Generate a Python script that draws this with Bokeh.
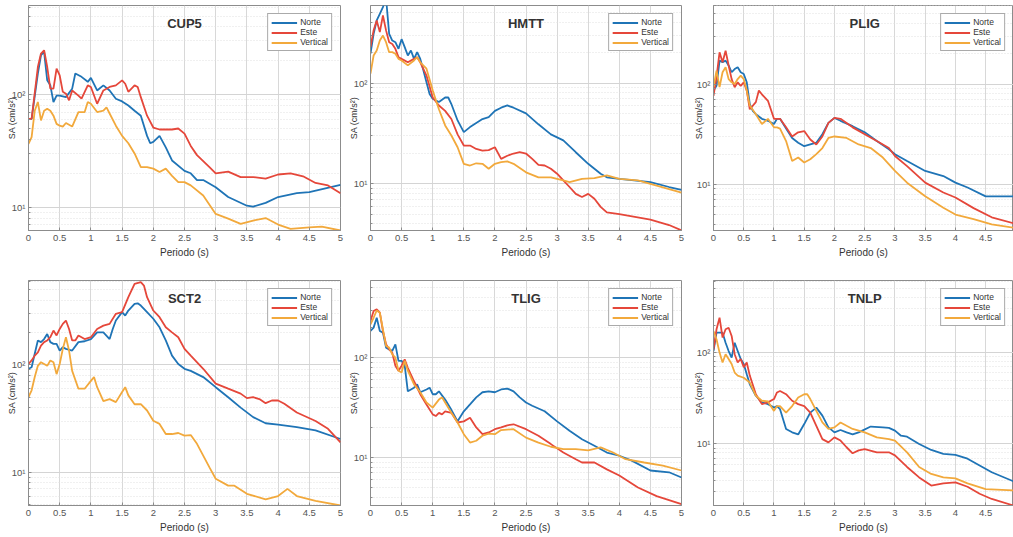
import math

from bokeh.plotting import figure
from bokeh.models import Range1d, FixedTicker, CustomJSTickFormatter, Label
from bokeh.layouts import row, column
from bokeh.embed import file_html
from bokeh.resources import INLINE

# ---------------- response spectra (period s, SA cm/s^2) ----------------
components = ["Norte", "Este", "Vertical"]
colors = ["#1f74b6", "#e5473a", "#f2a93c"]

# CUP5
cup5_t_n = [0, 0.05, 0.15, 0.2, 0.25, 0.3, 0.35, 0.4, 0.45, 0.5, 0.6, 0.7, 0.75, 0.85, 0.95, 1.0, 1.1, 1.2, 1.3, 1.4, 1.5, 1.6, 1.7, 1.8, 1.9, 1.95, 2.0, 2.1, 2.2, 2.3, 2.5, 2.6, 2.7, 2.8, 3.0, 3.2, 3.5, 3.6, 3.8, 4.0, 4.3, 4.5, 5.0]
cup5_n = [61, 61, 154, 224, 240, 134, 121, 86, 98, 98, 95, 113, 154, 144, 130, 141, 109, 121, 109, 92, 87, 80, 72, 65, 43, 37, 38, 43, 34, 26, 21, 20, 17.4, 17.4, 15, 12.3, 10.3, 10.1, 10.9, 12.3, 13.3, 13.6, 15.8]
cup5_t_e = [0, 0.05, 0.15, 0.2, 0.25, 0.3, 0.35, 0.4, 0.45, 0.5, 0.55, 0.6, 0.65, 0.7, 0.8, 0.85, 0.95, 1.0, 1.1, 1.2, 1.3, 1.4, 1.5, 1.55, 1.6, 1.7, 1.75, 1.8, 1.9, 2.0, 2.1, 2.3, 2.4, 2.5, 2.6, 2.7, 2.9, 3.0, 3.2, 3.4, 3.6, 3.8, 4.0, 4.2, 4.4, 4.6, 4.8, 5.0]
cup5_e = [61, 61, 176, 232, 248, 176, 113, 113, 170, 148, 106, 102, 89, 109, 98, 92, 121, 117, 83, 109, 117, 121, 134, 125, 106, 121, 117, 95, 65, 51, 49, 49, 50, 45, 35, 29, 22.7, 20, 20.7, 18.5, 18.5, 17.9, 19.5, 20, 18.8, 16.4, 15.6, 13.3]
cup5_t_v = [0, 0.05, 0.1, 0.15, 0.2, 0.25, 0.3, 0.35, 0.4, 0.45, 0.5, 0.55, 0.6, 0.7, 0.8, 0.9, 0.95, 1.0, 1.1, 1.2, 1.25, 1.3, 1.4, 1.5, 1.6, 1.7, 1.8, 1.9, 2.0, 2.1, 2.2, 2.3, 2.4, 2.5, 2.6, 2.8, 3.0, 3.2, 3.4, 3.6, 3.8, 4.0, 4.2, 4.5, 4.7, 5.0]
cup5_v = [36.6, 42, 72, 86, 59, 72, 75, 72, 65, 55, 53, 52, 56, 52, 70, 70, 86, 83, 70, 72, 77, 68, 53, 43, 37, 30, 22.7, 22.7, 22, 20.5, 22, 19, 16.7, 16.7, 15.6, 12.7, 8.7, 7.9, 7.1, 7.6, 8.0, 7.0, 6.4, 6.6, 6.7, 6.2]

# HMTT
hmtt_t_n = [0, 0.05, 0.1, 0.15, 0.2, 0.25, 0.3, 0.35, 0.4, 0.45, 0.5, 0.55, 0.6, 0.65, 0.7, 0.75, 0.8, 0.85, 0.9, 0.95, 1.0, 1.1, 1.2, 1.25, 1.3, 1.4, 1.5, 1.6, 1.8, 1.9, 2.0, 2.1, 2.2, 2.3, 2.5, 2.7, 2.9, 3.1, 3.3, 3.5, 3.7, 3.8, 4.0, 4.2, 4.5, 4.8, 5.0]
hmtt_n = [196, 309, 419, 488, 568, 700, 309, 265, 255, 219, 273, 228, 188, 211, 174, 203, 174, 134, 102, 78, 70, 65, 72, 72, 62, 42.6, 32.6, 36.6, 44, 46, 53, 57, 60, 57, 50, 39, 31, 27, 20.6, 15.8, 12.6, 11.6, 11.2, 10.9, 10.4, 9.3, 8.7]
hmtt_t_e = [0, 0.05, 0.1, 0.15, 0.2, 0.25, 0.3, 0.35, 0.4, 0.45, 0.5, 0.6, 0.7, 0.75, 0.8, 0.9, 1.0, 1.1, 1.2, 1.3, 1.4, 1.5, 1.6, 1.7, 1.8, 1.9, 2.0, 2.1, 2.2, 2.3, 2.4, 2.5, 2.6, 2.7, 2.8, 2.9, 3.0, 3.1, 3.2, 3.3, 3.4, 3.5, 3.6, 3.7, 3.8, 4.0, 4.5, 4.8, 5.0]
hmtt_e = [228, 334, 419, 321, 470, 334, 255, 245, 219, 181, 174, 161, 174, 181, 161, 119, 72, 60, 53, 44, 31, 24, 24, 22.2, 21.4, 21.6, 23.1, 17.7, 19, 20, 20.6, 20, 17.7, 15.4, 15.2, 14.1, 12.6, 10.8, 9.3, 7.95, 7.4, 7.95, 7.1, 5.9, 5.2, 5.0, 4.4, 3.9, 3.45]
hmtt_t_v = [0, 0.05, 0.1, 0.15, 0.2, 0.25, 0.3, 0.35, 0.4, 0.45, 0.5, 0.6, 0.7, 0.75, 0.8, 0.9, 1.0, 1.05, 1.1, 1.2, 1.3, 1.4, 1.5, 1.6, 1.7, 1.8, 1.9, 2.0, 2.1, 2.2, 2.3, 2.5, 2.7, 2.9, 3.1, 3.2, 3.4, 3.6, 3.8, 4.0, 4.3, 4.6, 5.0]
hmtt_v = [124, 188, 211, 265, 297, 255, 203, 203, 196, 174, 168, 150, 168, 181, 161, 139, 85, 68, 55, 38, 30.2, 23.1, 15.8, 15.2, 16, 15.8, 14.1, 15.8, 16.4, 16.7, 15.8, 13, 11.6, 11.6, 10.8, 10.4, 11.2, 11.4, 12.1, 11.2, 10.8, 9.6, 8.2]

# PLIG
plig_t_n = [0, 0.05, 0.1, 0.15, 0.2, 0.25, 0.3, 0.35, 0.4, 0.45, 0.5, 0.55, 0.6, 0.65, 0.7, 0.8, 0.9, 1.0, 1.05, 1.1, 1.2, 1.3, 1.4, 1.5, 1.6, 1.7, 1.8, 1.9, 2.0, 2.1, 2.3, 2.5, 2.7, 2.9, 3.0, 3.2, 3.5, 3.8, 4.0, 4.2, 4.5, 4.96]
plig_n = [86, 96, 171, 165, 171, 153, 131, 141, 147, 131, 126, 104, 63, 54, 50, 45, 43, 40, 45, 45, 36, 29, 26, 24, 25, 26, 31.6, 41, 46, 43, 38, 33, 27, 22.4, 20, 17.1, 13.6, 12.1, 10.4, 9.3, 7.6, 7.6]
plig_t_e = [0, 0.05, 0.1, 0.15, 0.2, 0.25, 0.3, 0.35, 0.4, 0.45, 0.5, 0.55, 0.6, 0.7, 0.75, 0.8, 0.9, 1.0, 1.1, 1.2, 1.3, 1.4, 1.5, 1.6, 1.7, 1.8, 1.9, 2.0, 2.1, 2.3, 2.5, 2.7, 2.9, 3.0, 3.2, 3.5, 3.8, 4.0, 4.3, 4.6, 4.96]
plig_e = [76, 117, 207, 165, 215, 153, 112, 93, 104, 96, 104, 86, 56, 66, 86, 79, 68, 45, 45, 37, 30, 33, 34, 28, 25, 30, 41, 46, 45, 37, 31.6, 27, 23, 19.2, 15.2, 10.4, 8.3, 7.4, 5.8, 4.7, 4.1]
plig_t_v = [0, 0.05, 0.1, 0.15, 0.2, 0.25, 0.3, 0.35, 0.4, 0.45, 0.5, 0.55, 0.6, 0.7, 0.8, 0.9, 1.0, 1.05, 1.1, 1.2, 1.3, 1.4, 1.5, 1.6, 1.7, 1.8, 1.9, 2.0, 2.2, 2.4, 2.6, 2.8, 3.0, 3.2, 3.5, 3.8, 4.0, 4.3, 4.6, 4.96]
plig_v = [93, 136, 93, 131, 147, 112, 104, 100, 112, 121, 112, 86, 61, 50, 40, 45, 37, 37, 36, 27, 17.1, 18.5, 16.5, 17.8, 20, 23, 29, 30, 29, 25, 23, 18.5, 13.6, 10.4, 7.6, 5.85, 5.0, 4.5, 4.0, 3.7]

# SCT2
sct2_t_n = [0, 0.05, 0.1, 0.15, 0.2, 0.25, 0.3, 0.35, 0.4, 0.45, 0.5, 0.55, 0.6, 0.7, 0.8, 0.9, 1.0, 1.1, 1.2, 1.3, 1.35, 1.4, 1.5, 1.55, 1.6, 1.7, 1.75, 1.8, 1.9, 2.0, 2.1, 2.2, 2.3, 2.4, 2.5, 2.6, 2.8, 3.0, 3.2, 3.4, 3.6, 3.8, 4.0, 4.3, 4.6, 5.0]
sct2_n = [92, 95, 127, 169, 163, 174, 194, 163, 157, 157, 136, 146, 141, 136, 163, 166, 174, 201, 201, 174, 216, 259, 310, 288, 321, 370, 375, 357, 310, 269, 224, 169, 122, 102, 92, 88, 77, 62, 50, 40, 32.6, 28.6, 27.8, 26.3, 24.5, 20.4]
sct2_t_e = [0, 0.05, 0.1, 0.15, 0.2, 0.25, 0.3, 0.35, 0.4, 0.45, 0.5, 0.55, 0.6, 0.65, 0.7, 0.75, 0.8, 0.9, 1.0, 1.1, 1.2, 1.3, 1.4, 1.5, 1.6, 1.7, 1.8, 1.85, 1.9, 2.0, 2.1, 2.2, 2.3, 2.4, 2.5, 2.6, 2.8, 3.0, 3.2, 3.4, 3.5, 3.6, 3.7, 3.8, 3.9, 4.0, 4.1, 4.3, 4.6, 4.8, 5.0]
sct2_e = [102, 110, 122, 131, 151, 163, 169, 181, 209, 188, 216, 241, 259, 216, 169, 169, 188, 174, 181, 216, 232, 241, 299, 310, 427, 568, 589, 548, 427, 321, 278, 224, 201, 181, 141, 122, 92, 67, 60, 54, 49, 50, 48, 44, 46.6, 46.6, 43.4, 36, 30, 25.4, 19]
sct2_t_v = [0, 0.05, 0.1, 0.15, 0.2, 0.25, 0.3, 0.35, 0.4, 0.45, 0.5, 0.55, 0.6, 0.65, 0.7, 0.8, 0.9, 1.0, 1.05, 1.1, 1.2, 1.3, 1.4, 1.5, 1.55, 1.6, 1.7, 1.8, 1.9, 2.0, 2.1, 2.2, 2.3, 2.4, 2.5, 2.6, 2.7, 2.8, 2.9, 3.0, 3.2, 3.3, 3.5, 3.8, 4.0, 4.15, 4.3, 4.6, 5.0]
sct2_v = [50, 58, 77, 98, 106, 102, 98, 110, 106, 82, 102, 141, 181, 136, 88, 60, 60, 71, 77, 62, 46, 48, 45, 56, 62, 52, 43, 43, 37.6, 30.2, 28.2, 22.7, 22.7, 23.2, 21.9, 22.2, 18.4, 14.3, 11.1, 8.7, 7.5, 7.5, 6.3, 5.6, 6.0, 7.0, 6.0, 5.4, 4.9]

# TLIG
tlig_t_n = [0, 0.05, 0.1, 0.15, 0.2, 0.25, 0.3, 0.35, 0.4, 0.45, 0.5, 0.55, 0.6, 0.7, 0.75, 0.8, 0.9, 0.95, 1.0, 1.05, 1.1, 1.2, 1.3, 1.4, 1.5, 1.6, 1.7, 1.8, 1.9, 2.0, 2.1, 2.2, 2.3, 2.4, 2.5, 2.6, 2.8, 3.0, 3.2, 3.4, 3.6, 3.8, 4.0, 4.2, 4.5, 4.8, 5.0]
tlig_n = [185, 200, 251, 185, 178, 126, 121, 117, 136, 93, 93, 83, 46, 50, 54, 45, 48, 50, 43, 43, 46, 38, 30, 23, 29, 34, 40, 45, 46, 45, 48, 49, 46, 40, 35.5, 33, 29, 23, 18.5, 15.2, 13.1, 11.2, 10.4, 9.3, 7.4, 7.1, 6.3]
tlig_t_e = [0, 0.05, 0.1, 0.15, 0.2, 0.25, 0.3, 0.35, 0.4, 0.45, 0.5, 0.55, 0.6, 0.7, 0.8, 0.9, 1.0, 1.05, 1.1, 1.15, 1.2, 1.3, 1.4, 1.5, 1.6, 1.7, 1.8, 1.9, 2.0, 2.1, 2.2, 2.3, 2.5, 2.7, 2.9, 3.1, 3.3, 3.4, 3.6, 3.8, 4.0, 4.3, 4.6, 5.0]
tlig_e = [233, 293, 305, 282, 185, 136, 121, 112, 83, 74, 83, 96, 79, 58, 43, 34, 27, 26, 28, 27, 29, 28, 22.4, 23, 25, 20, 17.1, 17.8, 19.2, 20, 21, 21.5, 19.2, 16.5, 13.6, 11.2, 9.6, 8.9, 8.9, 7.6, 6.6, 5.0, 4.1, 3.4]
tlig_t_v = [0, 0.05, 0.1, 0.15, 0.2, 0.25, 0.3, 0.35, 0.4, 0.45, 0.5, 0.55, 0.6, 0.7, 0.8, 0.9, 1.0, 1.1, 1.15, 1.2, 1.3, 1.4, 1.5, 1.6, 1.7, 1.8, 1.9, 2.0, 2.1, 2.3, 2.5, 2.7, 2.9, 3.1, 3.3, 3.5, 3.7, 3.9, 4.1, 4.4, 4.7, 5.0]
tlig_v = [215, 251, 297, 282, 192, 131, 126, 108, 100, 74, 71, 93, 74, 54, 45, 35.5, 31.6, 38, 40, 35.5, 28, 22.4, 17.1, 14.1, 14.7, 16.5, 17.3, 17.1, 18.8, 19.2, 15.8, 14.1, 12.8, 12.1, 12.1, 11.8, 12.6, 11.2, 9.6, 8.9, 8.3, 7.4]

# TNLP
tnlp_t_n = [0, 0.05, 0.1, 0.15, 0.2, 0.25, 0.3, 0.35, 0.4, 0.45, 0.5, 0.55, 0.6, 0.7, 0.8, 0.9, 1.0, 1.05, 1.1, 1.2, 1.3, 1.4, 1.5, 1.6, 1.7, 1.8, 1.9, 2.0, 2.1, 2.2, 2.3, 2.4, 2.6, 2.8, 2.9, 3.0, 3.1, 3.2, 3.4, 3.6, 3.8, 4.0, 4.2, 4.4, 4.6, 4.96]
tnlp_n = [104, 165, 165, 165, 128, 104, 88, 128, 104, 85, 75, 58, 45, 33.7, 28.5, 27.3, 25, 26, 24, 14.6, 13.4, 12.7, 16.5, 22, 25, 20.4, 15.2, 13.4, 14.2, 13.4, 12.7, 13.4, 15.5, 15.2, 15, 14, 12.3, 12, 10, 8.6, 7.8, 7.6, 6.9, 5.8, 4.9, 3.9]
tnlp_t_e = [0, 0.05, 0.1, 0.15, 0.2, 0.25, 0.3, 0.35, 0.4, 0.45, 0.5, 0.55, 0.6, 0.7, 0.8, 0.9, 1.0, 1.05, 1.1, 1.2, 1.3, 1.4, 1.5, 1.6, 1.7, 1.8, 1.9, 2.0, 2.1, 2.2, 2.3, 2.4, 2.5, 2.7, 2.9, 3.0, 3.2, 3.4, 3.6, 3.8, 4.0, 4.2, 4.4, 4.6, 4.96]
tnlp_e = [108, 180, 241, 146, 180, 187, 152, 96, 78, 85, 69, 78, 56, 35, 27.3, 28.5, 31, 36.6, 38, 35, 29.7, 27.3, 26, 22, 15.8, 11.3, 10.4, 11.8, 10.9, 9.2, 7.9, 8.5, 8.8, 8.1, 8.1, 7.5, 5.6, 4.3, 3.5, 3.7, 3.8, 3.4, 2.85, 2.5, 2.12]
tnlp_t_v = [0, 0.05, 0.1, 0.15, 0.2, 0.25, 0.3, 0.35, 0.4, 0.5, 0.6, 0.7, 0.8, 0.9, 1.0, 1.05, 1.1, 1.2, 1.3, 1.4, 1.5, 1.55, 1.6, 1.7, 1.8, 1.9, 2.0, 2.1, 2.2, 2.3, 2.5, 2.7, 2.9, 3.0, 3.2, 3.4, 3.6, 3.8, 4.0, 4.2, 4.5, 4.96]
tnlp_v = [172, 140, 100, 78, 96, 85, 75, 60.5, 56, 53, 47, 33.7, 29.7, 29.2, 23, 26, 26, 22, 26, 32.3, 35, 35, 31, 23, 17.2, 14.6, 15.2, 17.2, 15.8, 14.6, 13.4, 11.8, 11.3, 10.9, 8.1, 5.6, 4.7, 4.3, 4.2, 3.7, 3.2, 3.1]

x_ticks = [0, 0.5, 1, 1.5, 2, 2.5, 3, 3.5, 4, 4.5, 5]
x_label = "Periodo (s)"
y_label = "SA (cm/s\u00b2)"

FONT = "Liberation Sans"

y_major = [1, 10, 100, 1000]
y_minor = [m * 10 ** k for k in range(0, 3) for m in range(2, 10)]

sup_fmt = CustomJSTickFormatter(code="""
const sup = {"0":"\u2070","1":"\u00b9","2":"\u00b2","3":"\u00b3","-":"\u207b"};
const e = Math.round(Math.log10(tick));
return "10" + String(e).split("").map(c => sup[c]).join("");
""")
x_fmt = CustomJSTickFormatter(code="return String(tick);")


def panel(title, series, y_lo, y_hi, x_hi, width, height,
          b_left, b_right, b_top, b_bottom, ylab_standoff):
    p = figure(width=width, height=height, y_axis_type="log",
               x_range=Range1d(0, x_hi), y_range=Range1d(y_lo, y_hi),
               output_backend="svg", toolbar_location=None,
               min_border_left=b_left, min_border_right=b_right,
               min_border_top=b_top, min_border_bottom=b_bottom)
    p.background_fill_color = "white"
    p.border_fill_color = "white"
    p.outline_line_color = "#8c8c8c"
    p.outline_line_width = 1

    for (t, v), name, col in zip(series, components, colors):
        p.line(t, v, line_color=col, line_width=1.8, legend_label=name)

    # x axis
    p.xaxis.ticker = FixedTicker(ticks=x_ticks)
    p.xaxis.formatter = x_fmt
    p.xaxis.axis_label = x_label
    p.xaxis.axis_label_text_font = FONT
    p.xaxis.axis_label_text_font_size = "10px"
    p.xaxis.axis_label_text_font_style = "normal"
    p.xaxis.axis_label_text_color = "#333333"
    p.xaxis.axis_label_standoff = 3
    p.xaxis.major_label_standoff = 4

    # y axis; its title sits tight against the tick labels
    p.yaxis.ticker = FixedTicker(ticks=y_major, minor_ticks=y_minor)
    p.yaxis.formatter = sup_fmt
    p.yaxis.axis_label = y_label
    p.yaxis.axis_label_text_font = FONT
    p.yaxis.axis_label_text_font_size = "9px"
    p.yaxis.axis_label_text_font_style = "normal"
    p.yaxis.axis_label_text_color = "#333333"
    p.yaxis.axis_label_standoff = ylab_standoff
    p.yaxis.major_label_standoff = 3

    for ax in (p.xaxis, p.yaxis):
        ax.major_label_text_font = FONT
        ax.major_label_text_font_size = "9.5px"
        ax.major_label_text_color = "#555555"
        ax.axis_line_color = "#8c8c8c"
        ax.major_tick_line_color = "#8c8c8c"
        ax.minor_tick_line_color = "#8c8c8c"
        ax.major_tick_in = 3
        ax.major_tick_out = 0
        ax.minor_tick_in = 2
        ax.minor_tick_out = 0

    # grids
    p.xgrid.ticker = FixedTicker(ticks=x_ticks)
    p.xgrid.grid_line_color = "#d8d8d8"
    p.ygrid.ticker = FixedTicker(ticks=y_major, minor_ticks=y_minor)
    p.ygrid.grid_line_color = "#d4d4d4"
    p.ygrid.minor_grid_line_color = "#e0e0e0"
    p.ygrid.minor_grid_line_dash = "1 2"

    # station name inside the frame
    lo, hi = math.log10(y_lo), math.log10(y_hi)
    ty = 10 ** (hi - 0.08 * (hi - lo))
    p.add_layout(Label(x=2.5, y=ty, text=title, text_align="center", text_baseline="middle",
                       text_font=FONT, text_font_size="13px", text_font_style="bold",
                       text_color="#333333"))

    lg = p.legend[0]
    lg.location = "top_right"
    lg.margin = 8
    lg.padding = 3
    lg.spacing = 0
    lg.label_standoff = 3
    lg.glyph_width = 26
    lg.glyph_height = 9
    lg.label_height = 9
    lg.label_text_font = FONT
    lg.label_text_font_size = "8.5px"
    lg.label_text_color = "#333333"
    lg.border_line_color = "#555555"
    lg.border_line_width = 1
    lg.background_fill_color = "white"
    lg.background_fill_alpha = 1
    return p


p1 = panel("CUP5", [(cup5_t_n, cup5_n), (cup5_t_e, cup5_e), (cup5_t_v, cup5_v)],
           6.2, 620, 5, 345, 270, 28, 5, 5, 40, -8)
p2 = panel("HMTT", [(hmtt_t_n, hmtt_n), (hmtt_t_e, hmtt_e), (hmtt_t_v, hmtt_v)],
           3.44, 590, 5, 345, 270, 24, 9, 5, 40, -8)
p3 = panel("PLIG", [(plig_t_n, plig_n), (plig_t_e, plig_e), (plig_t_v, plig_v)],
           3.47, 606, 4.96, 323, 270, 18, 0, 5, 40, -10)
p4 = panel("SCT2", [(sct2_t_n, sct2_n), (sct2_t_e, sct2_e), (sct2_t_v, sct2_v)],
           4.9, 611, 5, 345, 267, 28, 5, 10, 32, -8)
p5 = panel("TLIG", [(tlig_t_n, tlig_n), (tlig_t_e, tlig_e), (tlig_t_v, tlig_v)],
           3.3, 593, 5, 345, 267, 24, 9, 10, 32, -8)
p6 = panel("TNLP", [(tnlp_t_n, tnlp_n), (tnlp_t_e, tnlp_e), (tnlp_t_v, tnlp_v)],
           2.12, 615, 4.96, 323, 267, 18, 0, 10, 32, -10)

layout = column(row(p1, p2, p3, spacing=0), row(p4, p5, p6, spacing=0), spacing=0)

open("out.html", "w").write(file_html(layout, INLINE))
